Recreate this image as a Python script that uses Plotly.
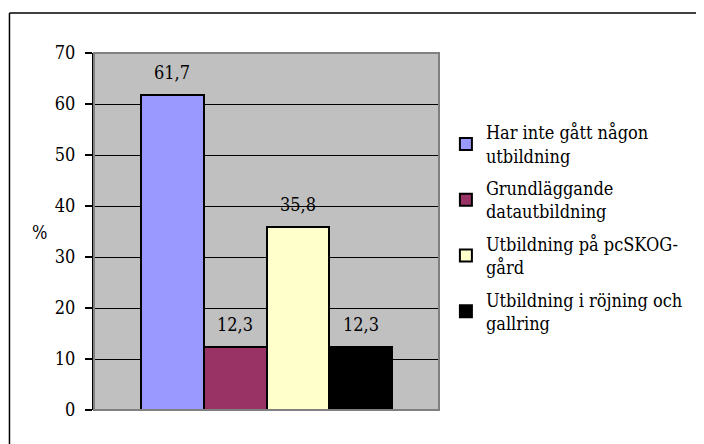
import plotly.graph_objects as go

# Andel (%) per typ av utbildning
labels = [
    "Har inte gått någon<br>utbildning",
    "Grundläggande<br>datautbildning",
    "Utbildning på pcSKOG-<br>gård",
    "Utbildning i röjning och<br>gallring",
]
keys = ["a", "b", "c", "d"]
values = [61.7, 12.3, 35.8, 12.3]
colors = ["#9999FF", "#993366", "#FFFFCC", "#000000"]
y_ticks = [0, 10, 20, 30, 40, 50, 60, 70]

FONT = dict(family="DejaVu Serif Condensed, DejaVu Serif", size=18, color="black")

fig = go.Figure()
for k, lab, v, c in zip(keys, labels, values, colors):
    fig.add_trace(go.Bar(
        x=[k], y=[v], name=lab, legendgroup=k,
        marker=dict(color=c, line=dict(color="black", width=2)),
    ))
    fig.add_annotation(
        x=k, y=v, text=f"{v:.1f}".replace(".", ","), showarrow=False,
        yshift=23, font=FONT,
    )

# y-axis title, horizontal like in Excel
fig.add_annotation(
    xref="paper", yref="paper", x=-0.185, y=0.497, text="%", showarrow=False,
    font=FONT,
)

# gray frame around plot area
fig.add_shape(type="rect", xref="paper", yref="paper", x0=0, y0=0, x1=1, y1=1,
              line=dict(color="#808080", width=2), layer="above")
# outer chart border (clipped right/bottom)
fig.add_shape(type="line", xref="paper", yref="paper", x0=-0.245, y0=1.112, x1=1.8, y1=1.112,
              line=dict(color="black", width=1.5))
fig.add_shape(type="line", xref="paper", yref="paper", x0=-0.245, y0=1.112, x1=-0.245, y1=-0.2,
              line=dict(color="black", width=1.5))

fig.update_layout(
    width=696, height=436,
    margin=dict(l=86, r=265, t=45, b=34),
    paper_bgcolor="white",
    plot_bgcolor="#C0C0C0",
    barmode="overlay",
    bargap=0,
    font=FONT,
    showlegend=True,
    legend=dict(
        x=1.02, y=0.829, xanchor="left", yanchor="top",
        font=FONT, bgcolor="rgba(0,0,0,0)",
        traceorder="grouped", tracegroupgap=6,
    ),
    xaxis=dict(
        range=[-1.25, 4.25], showticklabels=False, showgrid=False,
        zeroline=False, showline=False, ticks="", fixedrange=True,
    ),
    yaxis=dict(
        range=[0, 70], tickvals=y_ticks, showgrid=True, gridcolor="black", gridwidth=1,
        zeroline=False, showline=True, linecolor="black", linewidth=2,
        ticks="outside", ticklen=7, tickcolor="black", tickwidth=1.5,
        ticklabelstandoff=6, tickfont=FONT,
    ),
)

fig.write_html("out.html")
